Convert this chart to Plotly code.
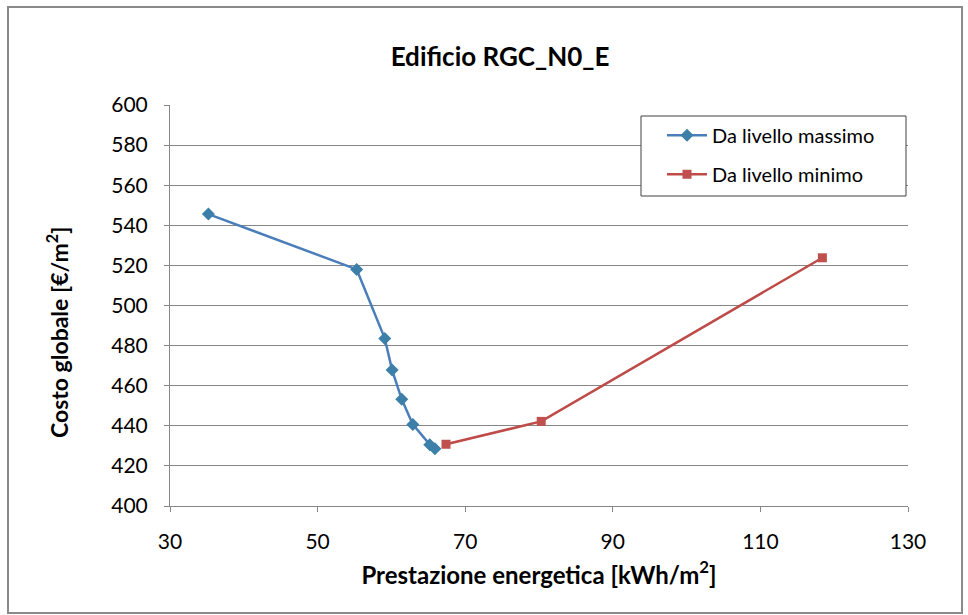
import plotly.graph_objects as go

# Data
max_x = [35.2, 55.3, 59.1, 60.1, 61.4, 62.9, 65.2, 65.9]
max_y = [545.6, 518.0, 483.6, 467.8, 453.2, 440.7, 430.6, 428.6]
min_x = [67.4, 80.3, 118.4]
min_y = [430.8, 442.2, 523.8]

x_ticks = [30, 50, 70, 90, 110, 130]
y_ticks = [400, 420, 440, 460, 480, 500, 520, 540, 560, 580, 600]

FONT = "Lato, 'Open Sans', sans-serif"

# plot area in pixels (l=170, t=105, w=738, h=401)
PL, PT, PW, PH = 170, 105, 738, 401
def px_x(p):
    return (p - PL) / PW
def px_y(p):
    return 1 - (p - PT) / PH

fig = go.Figure()
fig.add_trace(go.Scatter(
    x=max_x, y=max_y, mode="lines+markers", name="Da livello massimo",
    legendgroup="a",
    line=dict(color="#4A7EBB", width=2.5),
    marker=dict(symbol="diamond", size=10, color="#3C7FA8"),
))
fig.add_trace(go.Scatter(
    x=min_x, y=min_y, mode="lines+markers", name="Da livello minimo",
    legendgroup="b",
    line=dict(color="#BE4B48", width=2.5),
    marker=dict(symbol="square", size=9, color="#C0504D"),
))

fig.update_layout(
    width=968, height=615,
    margin=dict(l=PL, r=968 - PL - PW, t=PT, b=615 - PT - PH),
    paper_bgcolor="white", plot_bgcolor="white",
    font=dict(family=FONT, color="black", size=20),
    title=dict(text="<b>Edificio RGC_N0_E</b>", x=500/968, xref="container",
               y=1-57/615, yref="container", xanchor="center", yanchor="middle",
               font=dict(size=26, family=FONT, color="black")),
    showlegend=True,
    legend=dict(x=px_x(662), y=0.973, xanchor="left", yanchor="top",
                bgcolor="rgba(0,0,0,0)", borderwidth=0,
                itemwidth=40,
                font=dict(size=20, family=FONT, color="black"),
                traceorder="grouped", tracegroupgap=10),
    xaxis=dict(range=[30, 130], tickvals=x_ticks, ticktext=[str(v) for v in x_ticks],
               showgrid=False, zeroline=False, showline=True, linecolor="#868686",
               linewidth=1, ticks="outside", ticklen=5, tickcolor="#868686",
               tickfont=dict(size=21), ticklabelstandoff=12,
               title=dict(text="<b>Prestazione energetica [kWh/m<sup>2</sup>]</b>",
                          font=dict(size=24), standoff=14)),
    yaxis=dict(range=[400, 600], tickvals=y_ticks, ticktext=[str(v) for v in y_ticks],
               showgrid=True, gridcolor="#868686", gridwidth=1, zeroline=False,
               showline=True, linecolor="#868686", linewidth=1,
               ticks="outside", ticklen=5, tickcolor="#868686",
               tickfont=dict(size=21), ticklabelstandoff=12),
    annotations=[dict(text="<b>Costo globale [€/m<sup>2</sup>]</b>",
                      xref="paper", yref="paper", x=px_x(57), y=px_y(333),
                      xanchor="center", yanchor="middle", textangle=-90,
                      showarrow=False, font=dict(size=23, family=FONT, color="black"))],
    shapes=[
        dict(type="rect", xref="paper", yref="paper",
             x0=px_x(8), x1=px_x(962), y0=px_y(613), y1=px_y(7),
             line=dict(color="#8a8a8a", width=2), fillcolor="rgba(0,0,0,0)",
             layer="below"),
        dict(type="rect", xref="paper", yref="paper",
             x0=px_x(641), x1=px_x(906), y0=px_y(196), y1=px_y(116),
             line=dict(color="#404040", width=1), fillcolor="white",
             layer="above"),
    ],
)

fig.write_html("out.html")
